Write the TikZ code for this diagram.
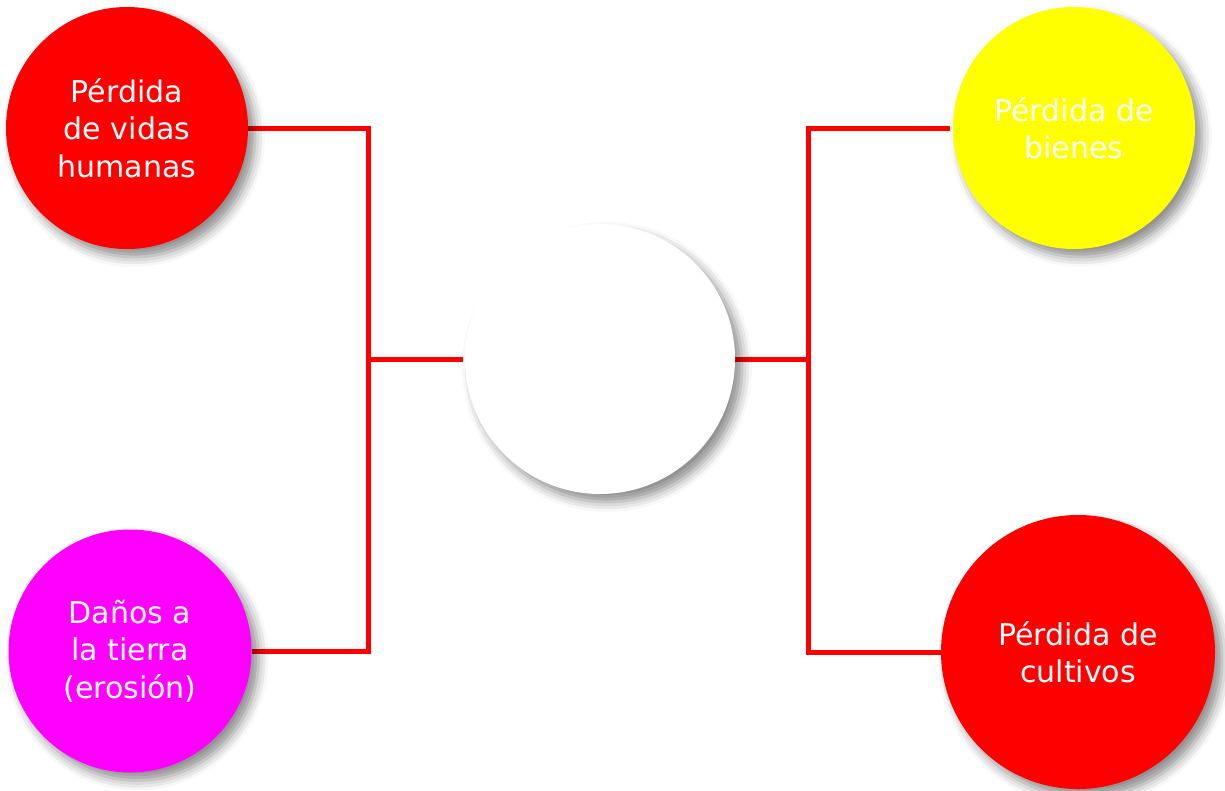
\documentclass[tikz,border=0pt]{standalone}
\usepackage{fontspec}
\setmainfont{DejaVu Sans}
\usetikzlibrary{shadows.blur}
\pgfdeclarelayer{bg}
\pgfsetlayers{bg,main}
\definecolor{cred}{RGB}{255,0,0}
\definecolor{cmag}{RGB}{255,0,255}
\definecolor{cyel}{RGB}{255,255,0}
\begin{document}
\begin{tikzpicture}[x=1pt,y=-1pt,
  bubble/.style={circle, inner sep=0pt, text=white, align=center,
    font=\fontsize{30}{37.5}\selectfont,
    blur shadow={shadow xshift=7pt, shadow yshift=-8pt, shadow blur radius=10pt, shadow opacity=45}},
  link/.style={draw=cred, line width=5pt}]
\useasboundingbox (0,0) rectangle (1225,790);
\node[bubble, fill=cred, minimum size=242pt] (tl) at (127,128) {Pérdida\\de vidas\\humanas};
\node[bubble, fill=cmag, minimum size=243pt] (bl) at (130,651) {Daños a\\la tierra\\(erosión)};
\node[bubble, fill=white, minimum size=270pt] (c) at (600,359) {};
\node[bubble, fill=cyel, minimum size=242pt] (tr) at (1074,128) {Pérdida de\\bienes};
\node[bubble, fill=cred, minimum size=274pt] (br) at (1078,652) {Pérdida de\\cultivos};
\coordinate (jl) at (368,359);
\coordinate (jr) at (808,359);
\begin{pgfonlayer}{bg}
\draw[link] (tl.east) -| (jl);
\draw[link] (bl.east) -| (jl);
\draw[link] (jl) -- ([xshift=-2pt]c.west);
\draw[link] (c.east) -- (jr);
\draw[link] (jr) |- ([xshift=-3pt]tr.west);
\draw[link] (jr) |- (br.west);
\end{pgfonlayer}
\end{tikzpicture}
\end{document}
